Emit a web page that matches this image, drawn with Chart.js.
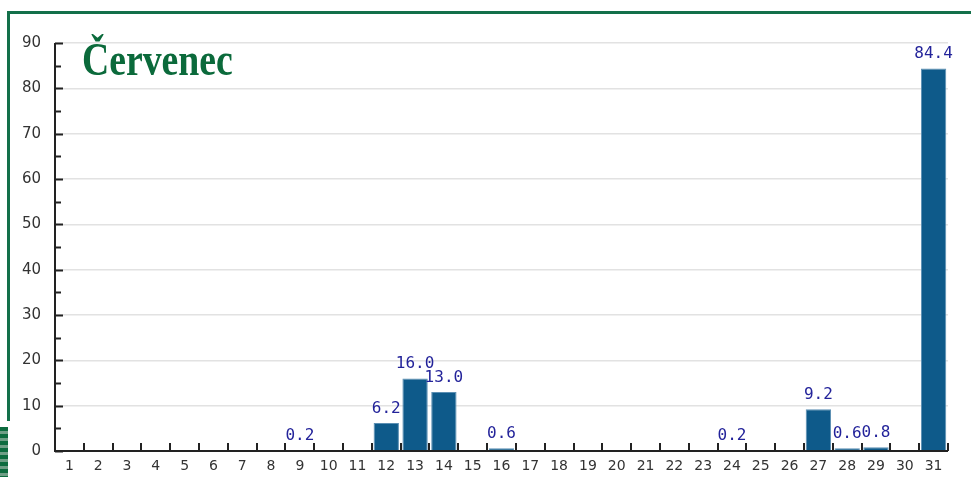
<!DOCTYPE html>
<html>
<head>
<meta charset="utf-8">
<script src="https://cdn.jsdelivr.net/npm/chart.js@4"></script>
<style>
  html, body { margin: 0; padding: 0; background: #fff; }
  #wrap { position: relative; width: 971px; height: 477px; overflow: hidden; }
  #frame { position: absolute; left: 7px; top: 11px; right: -5px; bottom: 56px;
           border-top: 3px solid #13704a; border-left: 3px solid #13704a; }
  #corner { position: absolute; left: 0; top: 427px; width: 8px; height: 50px;
            background: repeating-linear-gradient(#0d6b3f 0 4px, #6f9e86 4px 7px); }
  #title { position: absolute; left: 82px; top: 33px; font-family: "Liberation Serif", serif;
           font-weight: bold; font-size: 46px; color: #0b6a3b; transform: scaleX(0.82);
           transform-origin: left top; }
  canvas { position: absolute; left: 0; top: 0; }
</style>
</head>
<body>
<div id="wrap">
  <div id="frame"></div>
  <div id="corner"></div>
  <canvas id="chart" width="971" height="477"></canvas>
  <div id="title">Červenec</div>
</div>
<script>
// days of the month and the value for each day
const days = ['1','2','3','4','5','6','7','8','9','10','11','12','13','14','15','16',
  '17','18','19','20','21','22','23','24','25','26','27','28','29','30','31'];
const values = [0, 0, 0, 0, 0, 0, 0, 0, 0.2, 0, 0, 6.2, 16.0, 13.0, 0, 0.6,
  0, 0, 0, 0, 0, 0, 0, 0.2, 0, 0, 9.2, 0.6, 0.8, 0, 84.4];
const yMax = 90;

const barColor = '#0e5a8a';
const axisColor = '#222';

// inward tick marks and value labels
const extras = {
  id: 'extras',
  afterDatasetsDraw(chart) {
    const ctx = chart.ctx;
    const x = chart.scales.x, y = chart.scales.y;
    const a = chart.chartArea;
    ctx.save();
    ctx.strokeStyle = axisColor;
    ctx.lineWidth = 2;
    // y ticks every 5
    for (let v = 0; v <= yMax; v += 5) {
      const py = Math.round(y.getPixelForValue(v)) + 0.5;
      const len = v % 10 === 0 ? 8 : 6;
      ctx.beginPath();
      ctx.moveTo(a.left, py);
      ctx.lineTo(a.left + len, py);
      ctx.stroke();
    }
    // x ticks at category boundaries
    const step = (a.right - a.left) / days.length;
    for (let i = 1; i <= days.length; i++) {
      const px = Math.round(x.getPixelForValue(i - 1) + step / 2);
      ctx.beginPath();
      ctx.moveTo(px, a.bottom);
      ctx.lineTo(px, a.bottom - 8);
      ctx.stroke();
    }
    // axis lines
    ctx.beginPath();
    ctx.moveTo(a.left, a.top);
    ctx.lineTo(a.left, a.bottom);
    ctx.lineTo(a.right, a.bottom);
    ctx.stroke();

    // value labels
    const meta = chart.getDatasetMeta(0);
    ctx.fillStyle = '#23239a';
    ctx.font = '16px "DejaVu Sans Mono", monospace';
    ctx.textAlign = 'center';
    ctx.textBaseline = 'alphabetic';
    meta.data.forEach((bar, i) => {
      if (!values[i]) return;
      ctx.fillText(values[i].toFixed(1), bar.x, bar.y - 10);
    });
    ctx.restore();
  }
};

new Chart(document.getElementById('chart'), {
  type: 'bar',
  data: {
    labels: days,
    datasets: [{
      data: values,
      backgroundColor: barColor,
      borderColor: '#5b8fb3',
      borderWidth: { top: 1, left: 1, right: 1, bottom: 0 },
      categoryPercentage: 0.88,
      barPercentage: 1.0,
    }],
  },
  options: {
    responsive: false,
    animation: false,
    layout: { padding: { top: 43, right: 23, left: 0, bottom: 0 } },
    plugins: { legend: { display: false }, tooltip: { enabled: false } },
    scales: {
      x: {
        grid: { display: false, drawTicks: false },
        border: { display: false },
        ticks: { color: '#333', font: { family: '"DejaVu Sans", sans-serif', size: 14 }, padding: 7, maxRotation: 0, autoSkip: false },
        afterFit(s) { s.height = 26; },
      },
      y: {
        min: 0, max: yMax,
        grid: {
          drawTicks: false,
          color: (c) => (c.tick.value % 10 === 0 && c.tick.value > 0 ? '#e2e2e2' : 'transparent'),
          lineWidth: 1.5,
        },
        border: { display: false },
        ticks: {
          stepSize: 5,
          color: '#333',
          font: { family: '"DejaVu Sans", sans-serif', size: 15 },
          padding: 14,
          callback: (v) => (v % 10 === 0 ? v : ''),
        },
        afterFit(s) { s.width = 55; },
      },
    },
  },
  plugins: [extras],
});
</script>
</body>
</html>
